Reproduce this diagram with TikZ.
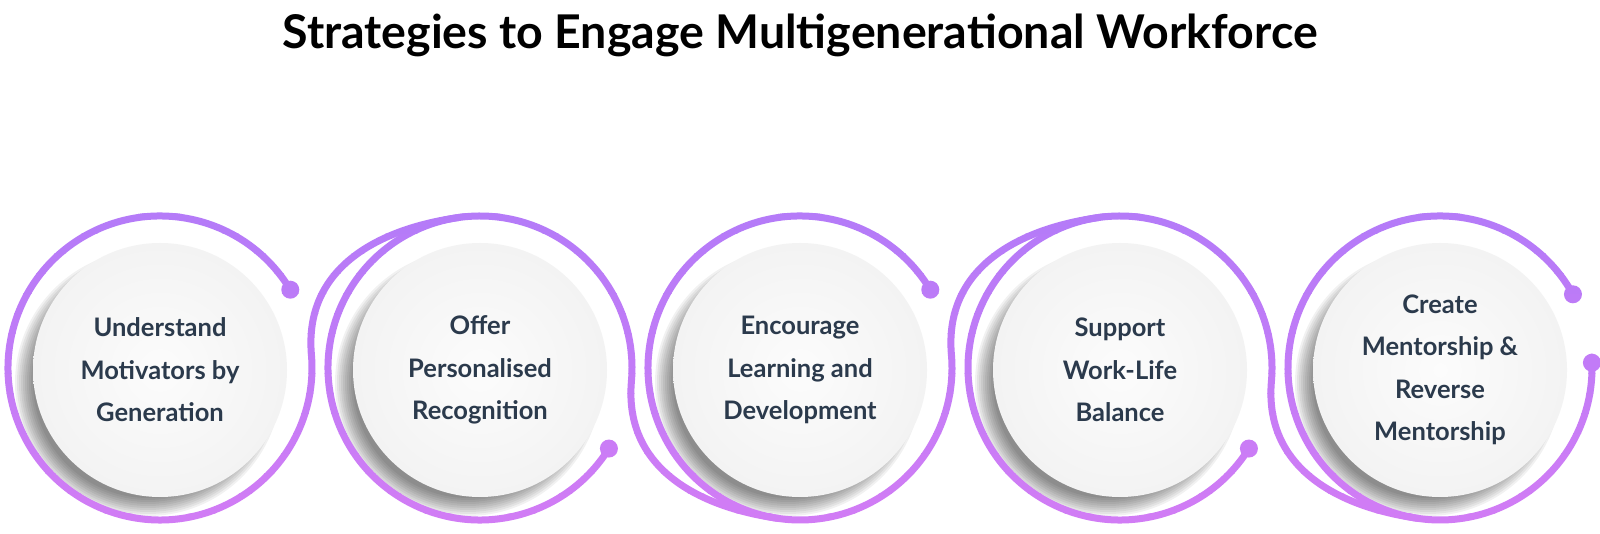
\documentclass[tikz,border=0pt]{standalone}
\usepackage{fontspec}
\setmainfont{Lato}
\usetikzlibrary{calc}
\definecolor{ringtop}{HTML}{B47BF8}
\definecolor{ringbot}{HTML}{D17CF5}
\definecolor{textcol}{HTML}{2B3A4C}
\definecolor{diskin}{HTML}{FCFCFC}
\definecolor{diskout}{HTML}{F3F3F3}
\tikzset{
  ln/.style={line width=7pt, draw=bandcol},
  dotc/.style={fill=bandcol},
  disk/.style={circle, minimum size=254pt, inner sep=0pt, inner color=diskin, outer color=diskout,
    align=center, text=textcol, font=\fontsize{25.5}{42.5}\selectfont\bfseries},
  shadowc/.style={fill=black, opacity=0.055},
  titlestyle/.style={anchor=base, font=\fontsize{46.5}{52}\selectfont\bfseries, text=black}
}
\newcommand\ringstuff{%
  \draw[ln] (p1) arc[start angle=31, end angle=365, radius=152]
    .. controls +(95:85) and +(188:85) .. (m2)
    arc[start angle=98, end angle=-5, radius=152]
    .. controls +(-95:85) and +(172:85) .. (m3)
    arc[start angle=262, end angle=365, radius=152]
    .. controls +(95:85) and +(188:85) .. (m4)
    arc[start angle=98, end angle=-5, radius=152]
    .. controls +(-95:85) and +(172:85) .. (m5)
    arc[start angle=262, end angle=362, radius=152];
  \draw[ln] (p2) arc[start angle=-32, end angle=-262, radius=152];
  \draw[ln] (p3) arc[start angle=31, end angle=262, radius=152];
  \draw[ln] (p4) arc[start angle=-32, end angle=-262, radius=152];
  \draw[ln] (p5) arc[start angle=29, end angle=262, radius=152];
  \fill[dotc] (p1) circle[radius=9];
  \fill[dotc] (p2) circle[radius=9];
  \fill[dotc] (p3) circle[radius=9];
  \fill[dotc] (p4) circle[radius=9];
  \fill[dotc] (p5) circle[radius=9];
  \fill[dotc] (pend) circle[radius=9];
}
\begin{document}
\begin{tikzpicture}[x=1pt,y=1pt]
\useasboundingbox (0,0) rectangle (1600,534);
\fill[white] (0,0) rectangle (1600,534);
% centres
\coordinate (c1) at (160,166);
\coordinate (c2) at (480,166);
\coordinate (c3) at (800,166);
\coordinate (c4) at (1120,166);
\coordinate (c5) at (1440,166);
\coordinate (p1) at ($(c1)+(31:152)$);
\coordinate (p2) at ($(c2)+(-32:152)$);
\coordinate (p3) at ($(c3)+(31:152)$);
\coordinate (p4) at ($(c4)+(-32:152)$);
\coordinate (p5) at ($(c5)+(29:152)$);
\coordinate (pend) at ($(c5)+(362:152)$);
\coordinate (m2) at ($(c2)+(98:152)$);
\coordinate (m3) at ($(c3)+(262:152)$);
\coordinate (m4) at ($(c4)+(98:152)$);
\coordinate (m5) at ($(c5)+(262:152)$);
% title
\node[titlestyle] (title) at (800,485) {Strategies to Engage Multigenerational Workforce};
% shadows
\foreach \cx in {160,480,800,1120,1440}{
  \foreach \s in {0,...,9}{
    \fill[shadowc] (\cx-12,164-13) circle[radius=115+2*\s];
  }
}
% disks
\node[disk] (d1) at (160,164) {Understand\\Motivators by\\Generation};
\node[disk] (d2) at (480,164) {Offer\\Personalised\\Recognition};
\node[disk] (d3) at (800,164) {Encourage\\Learning and\\Development};
\node[disk] (d4) at (1120,164) {Support\\Work-Life\\Balance};
\node[disk] (d5) at (1440,164) {Create\\Mentorship \&\\Reverse\\Mentorship};
% rings with vertical gradient
\foreach \k in {0,...,26}{
  \pgfmathsetmacro\ylo{20*\k}
  \pgfmathsetmacro\yhi{20*\k+20.6}
  \pgfmathtruncatemacro\pct{max(0,min(100,((20*\k+10)-14)/305*100))}
  \colorlet{bandcol}{ringtop!\pct!ringbot}
  \begin{scope}
    \clip (0,\ylo) rectangle (1600,\yhi);
    \ringstuff
  \end{scope}
}
\end{tikzpicture}
\end{document}
